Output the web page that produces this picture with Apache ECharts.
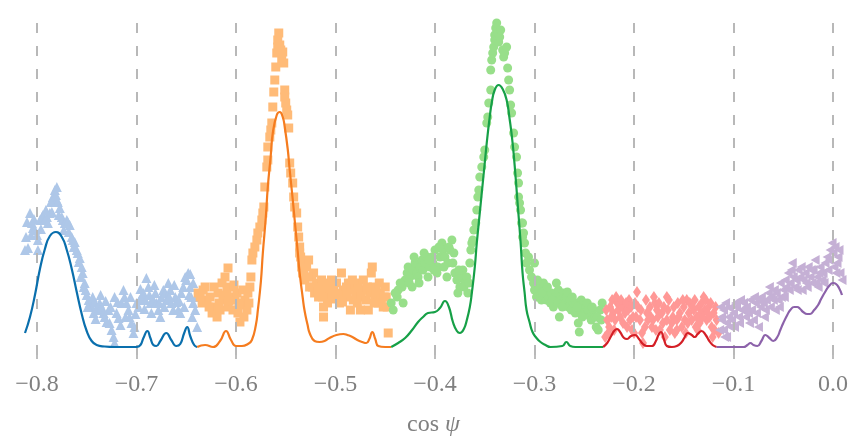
<!DOCTYPE html>
<html>
<head>
<meta charset="utf-8">
<script src="https://cdn.jsdelivr.net/npm/echarts@6/dist/echarts.min.js"></script>
<style>
  html, body { margin: 0; background: #ffffff; }
  #chart { width: 851px; height: 438px; }
</style>
</head>
<body>
<div id="chart"></div>
<script>
// tick positions on cos psi
const xTicks = [-0.8, -0.7, -0.6, -0.5, -0.4, -0.3, -0.2, -0.1, 0.0];

const samplesBlue = [
  [-0.812, 97], [-0.809, 99], [-0.810, 125], [-0.807, 134], [-0.805, 124], [-0.804, 119], [-0.802, 117],
  [-0.800, 112], [-0.799, 107], [-0.799, 97], [-0.797, 127], [-0.795, 130], [-0.794, 132], [-0.792, 127],
  [-0.790, 130], [-0.789, 124], [-0.787, 134], [-0.785, 135], [-0.784, 150], [-0.782, 157], [-0.780, 160],
  [-0.783, 147], [-0.780, 147], [-0.779, 145], [-0.777, 139], [-0.775, 130], [-0.774, 127], [-0.772, 124],
  [-0.770, 127], [-0.769, 125], [-0.767, 122], [-0.765, 110], [-0.764, 107], [-0.762, 105], [-0.760, 97],
  [-0.759, 94], [-0.757, 89], [-0.755, 80], [-0.754, 74], [-0.752, 64], [-0.751, 57], [-0.750, 52],
  [-0.748, 47], [-0.747, 44], [-0.745, 40], [-0.743, 34], [-0.742, 45], [-0.740, 39], [-0.738, 37],
  [-0.737, 44], [-0.735, 40], [-0.733, 34], [-0.732, 30], [-0.730, 25], [-0.728, 37], [-0.727, 24],
  [-0.725, 17], [-0.723, 10], [-0.722, 4], [-0.722, 50], [-0.720, 34], [-0.718, 29], [-0.715, 44],
  [-0.713, 57], [-0.712, 50], [-0.710, 44], [-0.708, 37], [-0.707, 30], [-0.705, 24], [-0.703, 14],
  [-0.702, 20], [-0.700, 44], [-0.698, 40], [-0.697, 47], [-0.695, 50], [-0.693, 54], [-0.691, 47],
  [-0.690, 69], [-0.688, 60], [-0.686, 44], [-0.685, 34], [-0.683, 47], [-0.681, 54], [-0.680, 44],
  [-0.678, 37], [-0.676, 30], [-0.675, 50], [-0.673, 57], [-0.671, 54], [-0.670, 47], [-0.668, 64],
  [-0.666, 57], [-0.665, 44], [-0.663, 37], [-0.661, 50], [-0.660, 45], [-0.658, 37], [-0.656, 34],
  [-0.655, 54], [-0.653, 60], [-0.651, 70], [-0.650, 67], [-0.648, 74], [-0.646, 60], [-0.645, 50],
  [-0.643, 44], [-0.646, 73], [-0.643, 64], [-0.641, 37], [-0.639, 20],
  [-0.811, 110], [-0.806, 112], [-0.803, 128], [-0.796, 118], [-0.791, 137], [-0.786, 145], [-0.781, 152],
  [-0.778, 132], [-0.773, 117], [-0.768, 115], [-0.763, 100], [-0.758, 85], [-0.756, 70], [-0.753, 60],
  [-0.749, 40], [-0.744, 50], [-0.741, 28], [-0.736, 52], [-0.731, 46], [-0.726, 40], [-0.719, 45],
  [-0.716, 22], [-0.711, 30], [-0.706, 50], [-0.701, 33], [-0.696, 58], [-0.692, 38], [-0.687, 52],
  [-0.682, 62], [-0.677, 44], [-0.672, 40], [-0.667, 50], [-0.662, 62], [-0.657, 46], [-0.652, 40],
  [-0.647, 52], [-0.644, 30], [-0.640, 50]
];

const samplesOrange = [
  [-0.638, 54], [-0.634, 44], [-0.631, 60], [-0.629, 47], [-0.626, 50], [-0.624, 34], [-0.621, 40],
  [-0.619, 30], [-0.618, 54], [-0.616, 37], [-0.614, 64], [-0.613, 47], [-0.611, 70], [-0.609, 57],
  [-0.608, 79], [-0.608, 40], [-0.606, 60], [-0.604, 50], [-0.603, 37], [-0.601, 47], [-0.599, 54],
  [-0.598, 34], [-0.596, 25], [-0.594, 44], [-0.593, 57], [-0.591, 47], [-0.589, 37], [-0.588, 54],
  [-0.586, 60], [-0.584, 87], [-0.583, 94], [-0.581, 100], [-0.579, 107], [-0.578, 114], [-0.576, 120],
  [-0.574, 127], [-0.573, 134], [-0.572, 140], [-0.571, 160], [-0.569, 180], [-0.568, 187], [-0.568, 200],
  [-0.566, 210], [-0.565, 217], [-0.564, 224], [-0.563, 240], [-0.562, 255], [-0.561, 267], [-0.560, 280],
  [-0.559, 294], [-0.558, 300], [-0.558, 307], [-0.557, 314], [-0.556, 302], [-0.555, 297], [-0.554, 287],
  [-0.553, 295], [-0.552, 284], [-0.551, 257], [-0.551, 250], [-0.550, 244], [-0.549, 237], [-0.548, 232],
  [-0.547, 219], [-0.546, 184], [-0.545, 174], [-0.543, 164], [-0.542, 150], [-0.541, 140], [-0.539, 134],
  [-0.538, 120], [-0.537, 110], [-0.536, 100], [-0.535, 90], [-0.534, 80], [-0.533, 74], [-0.536, 94],
  [-0.534, 84], [-0.532, 74], [-0.531, 67], [-0.529, 80], [-0.527, 87], [-0.526, 60], [-0.524, 70],
  [-0.522, 74], [-0.521, 54], [-0.519, 64], [-0.517, 50], [-0.516, 60], [-0.514, 67], [-0.512, 40],
  [-0.512, 30], [-0.509, 57], [-0.507, 64], [-0.506, 50], [-0.504, 67], [-0.502, 60], [-0.501, 54],
  [-0.499, 64], [-0.496, 44], [-0.494, 74], [-0.492, 57], [-0.490, 50], [-0.489, 60], [-0.487, 64],
  [-0.485, 37], [-0.484, 57], [-0.482, 47], [-0.480, 60], [-0.479, 54], [-0.477, 64], [-0.475, 37],
  [-0.474, 50], [-0.472, 67], [-0.470, 57], [-0.469, 47], [-0.467, 37], [-0.465, 54], [-0.464, 74],
  [-0.463, 80], [-0.462, 60], [-0.460, 50], [-0.459, 57], [-0.457, 44], [-0.455, 54], [-0.454, 47],
  [-0.452, 40], [-0.450, 60], [-0.449, 50], [-0.447, 14],
  [-0.636, 50], [-0.633, 57], [-0.627, 40], [-0.622, 60], [-0.617, 44], [-0.612, 52], [-0.607, 46],
  [-0.602, 62], [-0.597, 42], [-0.592, 30], [-0.587, 44], [-0.585, 70], [-0.528, 70], [-0.523, 60],
  [-0.518, 55], [-0.513, 50], [-0.508, 44], [-0.503, 48], [-0.498, 52], [-0.493, 45], [-0.488, 54],
  [-0.483, 67], [-0.478, 44], [-0.473, 57], [-0.468, 60], [-0.461, 44], [-0.456, 64], [-0.451, 50],
  [-0.448, 40]
];

const samplesGreen = [
  [-0.444, 44], [-0.442, 37], [-0.438, 50], [-0.437, 57], [-0.433, 60], [-0.432, 44], [-0.430, 67],
  [-0.428, 74], [-0.427, 80], [-0.425, 70], [-0.423, 60], [-0.422, 77], [-0.420, 84], [-0.418, 74],
  [-0.417, 70], [-0.415, 80], [-0.413, 87], [-0.412, 77], [-0.410, 84], [-0.408, 90], [-0.407, 70],
  [-0.405, 80], [-0.403, 90], [-0.402, 84], [-0.400, 97], [-0.398, 74], [-0.397, 80], [-0.395, 90],
  [-0.393, 104], [-0.392, 97], [-0.390, 90], [-0.388, 70], [-0.387, 84], [-0.385, 97], [-0.383, 107],
  [-0.382, 84], [-0.380, 74], [-0.378, 67], [-0.377, 54], [-0.375, 60], [-0.373, 70], [-0.372, 77],
  [-0.370, 64], [-0.368, 70], [-0.367, 54], [-0.365, 84], [-0.364, 97], [-0.363, 104], [-0.362, 107],
  [-0.361, 117], [-0.359, 124], [-0.358, 137], [-0.357, 150], [-0.356, 157], [-0.355, 170], [-0.353, 180],
  [-0.351, 190], [-0.350, 197], [-0.348, 224], [-0.347, 230], [-0.346, 244], [-0.344, 257], [-0.344, 277],
  [-0.343, 287], [-0.342, 294], [-0.341, 300], [-0.340, 307], [-0.340, 312], [-0.339, 319], [-0.338, 324],
  [-0.337, 314], [-0.336, 305], [-0.335, 310], [-0.334, 317], [-0.332, 297], [-0.331, 290], [-0.330, 294],
  [-0.328, 300], [-0.327, 279], [-0.326, 267], [-0.325, 257], [-0.324, 242], [-0.323, 234], [-0.321, 214],
  [-0.320, 200], [-0.318, 190], [-0.317, 174], [-0.316, 164], [-0.316, 150], [-0.315, 144], [-0.314, 137],
  [-0.313, 124], [-0.312, 110], [-0.312, 124], [-0.311, 114], [-0.310, 104], [-0.309, 94], [-0.308, 84],
  [-0.306, 90], [-0.305, 77], [-0.303, 70], [-0.301, 64], [-0.300, 84], [-0.300, 57], [-0.298, 50],
  [-0.296, 60], [-0.294, 54], [-0.293, 47], [-0.291, 64], [-0.289, 57], [-0.288, 47], [-0.286, 50],
  [-0.284, 44], [-0.283, 54], [-0.281, 40], [-0.279, 50], [-0.278, 64], [-0.276, 57], [-0.275, 30],
  [-0.274, 50], [-0.273, 47], [-0.271, 54], [-0.269, 44], [-0.268, 50], [-0.266, 40], [-0.264, 47],
  [-0.263, 37], [-0.261, 44], [-0.259, 34], [-0.258, 44], [-0.256, 24], [-0.255, 15], [-0.254, 37],
  [-0.253, 47], [-0.251, 44], [-0.249, 34], [-0.248, 40], [-0.246, 37], [-0.244, 30], [-0.243, 27],
  [-0.241, 37], [-0.239, 30], [-0.238, 20], [-0.236, 17], [-0.234, 37], [-0.232, 44],
  [-0.440, 54], [-0.435, 64], [-0.426, 64], [-0.421, 90], [-0.416, 64], [-0.411, 94], [-0.406, 87],
  [-0.401, 77], [-0.396, 100], [-0.391, 80], [-0.386, 100], [-0.381, 94], [-0.376, 77], [-0.371, 60],
  [-0.366, 64], [-0.297, 67], [-0.292, 55], [-0.287, 60], [-0.282, 47], [-0.277, 44], [-0.272, 40],
  [-0.267, 55], [-0.262, 50], [-0.257, 40], [-0.252, 30], [-0.247, 44], [-0.242, 40], [-0.237, 30],
  [-0.233, 27]
];

const samplesRed = [
  [-0.229, 10], [-0.227, 27], [-0.226, 14], [-0.225, 20], [-0.224, 40], [-0.222, 47], [-0.221, 34],
  [-0.220, 17], [-0.219, 27], [-0.217, 44], [-0.216, 37], [-0.215, 44], [-0.214, 30], [-0.212, 40],
  [-0.211, 24], [-0.209, 34], [-0.207, 20], [-0.206, 37], [-0.205, 47], [-0.204, 27], [-0.202, 17],
  [-0.201, 30], [-0.200, 14], [-0.199, 44], [-0.197, 55], [-0.196, 40], [-0.194, 27], [-0.192, 14],
  [-0.191, 4], [-0.189, 20], [-0.187, 34], [-0.186, 27], [-0.184, 40], [-0.182, 20], [-0.181, 27],
  [-0.179, 44], [-0.178, 17], [-0.177, 37], [-0.176, 30], [-0.174, 17], [-0.172, 34], [-0.171, 24],
  [-0.169, 10], [-0.167, 27], [-0.167, 50], [-0.166, 37], [-0.164, 17], [-0.162, 24], [-0.161, 30],
  [-0.159, 14], [-0.157, 27], [-0.157, 17], [-0.156, 44], [-0.154, 34], [-0.152, 20], [-0.150, 40],
  [-0.149, 27], [-0.148, 14], [-0.147, 47], [-0.145, 34], [-0.144, 44], [-0.142, 27], [-0.140, 37],
  [-0.139, 47], [-0.137, 30], [-0.136, 17], [-0.135, 40], [-0.134, 24], [-0.132, 44], [-0.130, 50],
  [-0.129, 37], [-0.128, 47], [-0.127, 27], [-0.125, 40], [-0.124, 30], [-0.122, 20], [-0.121, 10],
  [-0.120, 34], [-0.119, 17], [-0.117, 27], [-0.115, 14],
  [-0.228, 37], [-0.223, 30], [-0.218, 50], [-0.213, 47], [-0.208, 44], [-0.203, 40], [-0.198, 30],
  [-0.193, 37], [-0.188, 47], [-0.183, 30], [-0.180, 50], [-0.175, 44], [-0.170, 40], [-0.165, 47],
  [-0.160, 40], [-0.155, 30], [-0.151, 47], [-0.146, 24], [-0.141, 40], [-0.138, 20], [-0.133, 34],
  [-0.131, 30], [-0.126, 34], [-0.123, 44], [-0.118, 40]
];

const samplesPurple = [
  [-0.114, 17], [-0.112, 27], [-0.110, 37], [-0.109, 10], [-0.107, 24], [-0.105, 30], [-0.104, 39],
  [-0.102, 27], [-0.100, 34], [-0.099, 20], [-0.097, 40], [-0.095, 30], [-0.094, 24], [-0.092, 37],
  [-0.090, 44], [-0.088, 30], [-0.087, 40], [-0.085, 34], [-0.083, 47], [-0.082, 37], [-0.080, 27],
  [-0.078, 44], [-0.077, 34], [-0.075, 20], [-0.073, 40], [-0.072, 50], [-0.070, 44], [-0.068, 37],
  [-0.067, 47], [-0.065, 54], [-0.063, 40], [-0.062, 50], [-0.060, 47], [-0.058, 37], [-0.057, 54],
  [-0.055, 47], [-0.053, 64], [-0.052, 50], [-0.050, 57], [-0.048, 67], [-0.047, 60], [-0.045, 74],
  [-0.043, 64], [-0.042, 77], [-0.040, 70], [-0.038, 60], [-0.037, 67], [-0.035, 77], [-0.033, 70],
  [-0.031, 57], [-0.030, 67], [-0.028, 74], [-0.026, 60], [-0.025, 80], [-0.023, 70], [-0.021, 64],
  [-0.020, 77], [-0.018, 87], [-0.016, 70], [-0.015, 60], [-0.013, 80], [-0.011, 67], [-0.010, 74],
  [-0.008, 84], [-0.006, 90], [-0.005, 77], [-0.003, 97], [-0.001, 104], [0.000, 94], [0.002, 100],
  [0.004, 84], [0.005, 90], [0.007, 74], [0.009, 67], [-0.110, 17], [-0.107, 10], [-0.112, 30],
  [-0.113, 40], [-0.108, 44], [-0.103, 20], [-0.098, 44], [-0.093, 47], [-0.089, 37], [-0.084, 24],
  [-0.079, 50], [-0.074, 47], [-0.069, 30], [-0.064, 60], [-0.059, 57], [-0.054, 40], [-0.049, 50],
  [-0.044, 57], [-0.041, 84], [-0.036, 57], [-0.032, 80], [-0.027, 64], [-0.022, 77], [-0.017, 64],
  [-0.014, 74], [-0.009, 64], [-0.004, 87], [0.001, 80], [0.006, 97], [0.003, 74]
];

// fitted curves
const curveBlue = [
  [-0.812, 14], [-0.807, 30], [-0.802, 52], [-0.797, 78], [-0.792, 98], [-0.787, 111], [-0.781, 115],
  [-0.775, 110], [-0.770, 97], [-0.765, 78], [-0.760, 55], [-0.755, 33], [-0.750, 16], [-0.745, 6],
  [-0.740, 2], [-0.732, 0.5], [-0.722, 0], [-0.700, 0], [-0.696, 2], [-0.693, 9], [-0.689, 16],
  [-0.686, 9], [-0.683, 2], [-0.680, 1], [-0.676, 6], [-0.670, 14], [-0.665, 7], [-0.660, 1],
  [-0.656, 3], [-0.652, 14], [-0.649, 20], [-0.646, 11], [-0.642, 2], [-0.639, 0]
];

const curveOrange = [
  [-0.639, 0], [-0.631, 2], [-0.623, 0], [-0.616, 6], [-0.610, 16], [-0.605, 7], [-0.600, 1],
  [-0.594, 1], [-0.588, 3], [-0.584, 7], [-0.580, 22], [-0.578, 37], [-0.575, 65], [-0.573, 94],
  [-0.570, 130], [-0.568, 160], [-0.565, 192], [-0.563, 214], [-0.559, 232], [-0.556, 235], [-0.553, 230],
  [-0.551, 220], [-0.548, 198], [-0.546, 177], [-0.543, 148], [-0.541, 127], [-0.538, 96], [-0.536, 74],
  [-0.533, 50], [-0.531, 36], [-0.528, 22], [-0.526, 14], [-0.521, 6], [-0.516, 5], [-0.511, 6],
  [-0.506, 9], [-0.499, 12], [-0.492, 13], [-0.488, 12], [-0.483, 10], [-0.478, 7], [-0.473, 5],
  [-0.469, 4], [-0.466, 8], [-0.463, 15], [-0.460, 8], [-0.457, 1], [-0.450, 0], [-0.444, 0]
];

const curveGreen = [
  [-0.444, 0], [-0.437, 4], [-0.430, 9], [-0.423, 17], [-0.417, 25], [-0.412, 30], [-0.407, 34],
  [-0.400, 35], [-0.395, 39], [-0.390, 46], [-0.386, 40], [-0.382, 25], [-0.378, 16], [-0.375, 14],
  [-0.371, 18], [-0.368, 27], [-0.365, 40], [-0.363, 54], [-0.360, 80], [-0.358, 104], [-0.355, 134],
  [-0.353, 154], [-0.350, 184], [-0.348, 204], [-0.345, 230], [-0.343, 244], [-0.340, 257], [-0.336, 262],
  [-0.332, 258], [-0.328, 247], [-0.325, 228], [-0.322, 204], [-0.319, 170], [-0.317, 144], [-0.314, 105],
  [-0.312, 74], [-0.310, 55], [-0.308, 37], [-0.305, 25], [-0.302, 15], [-0.298, 9], [-0.294, 5],
  [-0.289, 2], [-0.284, 0], [-0.272, 1], [-0.268, 5], [-0.264, 1], [-0.259, 0], [-0.231, 0]
];

const curveRed = [
  [-0.231, 0], [-0.227, 4], [-0.223, 11], [-0.220, 16], [-0.217, 18], [-0.214, 15], [-0.210, 9],
  [-0.207, 8], [-0.203, 11], [-0.199, 12], [-0.195, 8], [-0.191, 3], [-0.187, 1], [-0.182, 1],
  [-0.178, 6], [-0.175, 13], [-0.173, 15], [-0.170, 8], [-0.167, 1], [-0.162, 0], [-0.157, 1],
  [-0.152, 5], [-0.149, 10], [-0.146, 14], [-0.142, 12], [-0.139, 10], [-0.136, 13], [-0.132, 16],
  [-0.128, 12], [-0.125, 7], [-0.121, 2], [-0.117, 0]
];

const curvePurple = [
  [-0.117, 0], [-0.104, 0], [-0.090, 0], [-0.086, 2], [-0.083, 4], [-0.080, 2], [-0.076, 1],
  [-0.072, 6], [-0.068, 12], [-0.064, 9], [-0.060, 6], [-0.056, 10], [-0.053, 17], [-0.050, 24],
  [-0.046, 32], [-0.043, 37], [-0.039, 40], [-0.036, 40], [-0.033, 38], [-0.030, 35], [-0.026, 33],
  [-0.023, 33], [-0.019, 37], [-0.015, 42], [-0.012, 48], [-0.008, 55], [-0.004, 61], [0.000, 64],
  [0.003, 63], [0.006, 59], [0.009, 52]
];

const textGray = "#808080";
const serif = "'Liberation Serif', 'DejaVu Serif', serif";

const scatterSeries = (data, symbol, size, color) => ({
  type: "scatter",
  data,
  symbol,
  symbolSize: size,
  silent: true,
  itemStyle: { color, opacity: 1 },
  z: 3,
});

const curveSeries = (data, color) => ({
  type: "line",
  data,
  showSymbol: false,
  smooth: 0.5,
  silent: true,
  lineStyle: { color, width: 2.2 },
  z: 5,
});

const chart = echarts.init(document.getElementById("chart"), null, { renderer: "canvas" });

chart.setOption({
  animation: false,
  backgroundColor: "#ffffff",
  grid: {
    left: 25,
    right: 9,
    top: 13,
    bottom: 83,
    containLabel: false,
    outerBoundsMode: "none",
  },
  xAxis: {
    type: "value",
    min: -0.812,
    max: 0.009,
    name: "{n|cos} {i|ψ}",
    nameLocation: "middle",
    nameGap: 58,
    nameTextStyle: {
      color: textGray,
      fontFamily: serif,
      fontSize: 24,
      rich: {
        n: { color: textGray, fontFamily: serif, fontSize: 24 },
        i: { color: textGray, fontFamily: serif, fontSize: 24, fontStyle: "italic" },
      },
    },
    axisLine: { show: false },
    axisTick: {
      show: true,
      customValues: xTicks,
      length: 12,
      lineStyle: { color: "#a8a8a8", width: 1.5 },
    },
    axisLabel: {
      customValues: xTicks,
      margin: 18,
      color: textGray,
      fontFamily: serif,
      fontSize: 24,
      formatter: (v) => (v < -1e-9 ? "\u2212" : "") + Math.abs(v).toFixed(1),
    },
    splitLine: { show: false },
  },
  yAxis: {
    type: "value",
    min: -8,
    max: 334,
    show: false,
    splitLine: { show: false },
  },
  series: [
    {
      type: "line",
      data: [],
      silent: true,
      z: 1,
      markLine: {
        silent: true,
        symbol: ["none", "none"],
        label: { show: false },
        emphasis: { disabled: true },
        lineStyle: { color: "#b8b8b8", width: 2, type: [10, 13] },
        data: xTicks.map((v) => ({ xAxis: v })),
      },
    },
    scatterSeries(samplesBlue, "triangle", 10, "#aec7e8"),
    scatterSeries(samplesOrange, "rect", 9, "#ffbb78"),
    scatterSeries(samplesGreen, "circle", 9, "#98df8a"),
    scatterSeries(samplesRed, "diamond", [8, 12], "#ff9896"),
    scatterSeries(samplesPurple, "path://M0,5 L9,0 L9,10 Z", [9, 10], "#c5b0d5"),
    curveSeries(curveBlue, "#0a6fad"),
    curveSeries(curveOrange, "#f57c1f"),
    curveSeries(curveGreen, "#16a047"),
    curveSeries(curveRed, "#d41f26"),
    curveSeries(curvePurple, "#8c62aa"),
  ],
});
</script>
</body>
</html>
